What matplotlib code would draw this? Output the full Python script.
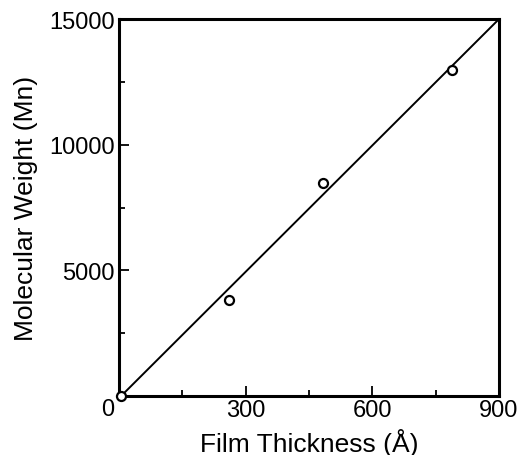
import matplotlib.pyplot as plt
from matplotlib.ticker import MultipleLocator

# Data
thickness = [5, 260, 482, 788]          # film thickness (Angstrom)
mol_weight = [0, 3820, 8490, 12980]     # molecular weight (Mn)

# Fitted line end points
fit_x = [5, 900]
fit_y = [0, 15000]

x_ticks = [300, 600, 900]
y_ticks = [5000, 10000, 15000]

plt.rcParams['font.family'] = ['Liberation Sans', 'DejaVu Sans']

fig = plt.figure(figsize=(5.25, 4.56), dpi=100)
ax = fig.add_axes([0.2267, 0.1294, 0.7238, 0.8266])

ax.plot(fit_x, fit_y, color='black', linewidth=1.4, zorder=2)
ax.plot(thickness, mol_weight, linestyle='none', marker='o', markersize=6.5,
        markerfacecolor='white', markeredgecolor='black', markeredgewidth=1.6,
        zorder=3, clip_on=False)

ax.set_xlim(0, 900)
ax.set_ylim(0, 15000)
ax.set_xticks(x_ticks)
ax.set_yticks(y_ticks)
ax.xaxis.set_minor_locator(MultipleLocator(150))
ax.yaxis.set_minor_locator(MultipleLocator(2500))
ax.tick_params(which='both', direction='in', width=1.3, labelsize=17)
ax.tick_params(axis='x', pad=2)
ax.tick_params(axis='y', pad=3)
ax.tick_params(which='major', length=7)
ax.tick_params(which='minor', length=4)

# shared origin label
ax.text(-0.03, -0.005, '0', transform=ax.transAxes, ha='center', va='top',
        fontsize=17)

for side in ax.spines.values():
    side.set_linewidth(2.2)

ax.set_xlabel('Film Thickness (Å)', fontsize=19, labelpad=5)
ax.set_ylabel('Molecular Weight (Mn)', fontsize=19, labelpad=8)

fig.savefig('out.png', dpi=100)
